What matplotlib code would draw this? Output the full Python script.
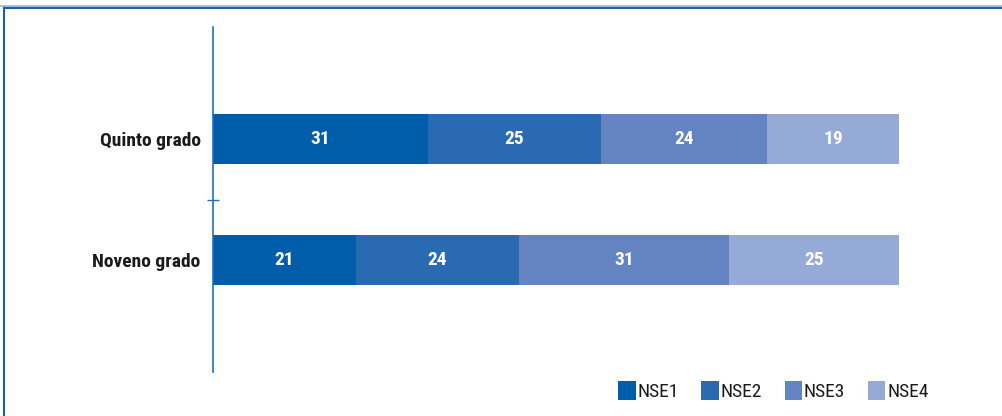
import matplotlib.pyplot as plt
from matplotlib.lines import Line2D

# data
grados = ["Quinto grado", "Noveno grado"]
series = ["NSE1", "NSE2", "NSE3", "NSE4"]
nse1 = [31, 21]
nse2 = [25, 24]
nse3 = [24, 31]
nse4 = [19, 25]
colores = ["#005DA9", "#2A6AB2", "#6383C1", "#95AAD6"]

plt.rcParams['font.family'] = ['Roboto Condensed', 'DejaVu Sans']

fig = plt.figure(figsize=(10.02, 4.16), dpi=100)
ax = fig.add_axes([213 / 1002, 1 - 372 / 416, 686 / 1002, 345 / 416])

valores = [nse1, nse2, nse3, nse4]
totales = [sum(v[i] for v in valores) for i in range(len(grados))]
ypos = list(range(len(grados)))
izq = [0.0] * len(grados)
for nombre, vals, c in zip(series, valores, colores):
    ancho = [v / t * 100 for v, t in zip(vals, totales)]
    bars = ax.barh(ypos, ancho, left=izq, height=0.41, color=c, label=nombre)
    for b, v in zip(bars, vals):
        ax.text(b.get_x() + b.get_width() / 2, b.get_y() + b.get_height() / 2, str(v),
                ha='center', va='center', color='white', fontsize=14, fontweight='bold')
    izq = [a + w for a, w in zip(izq, ancho)]

ax.set_xlim(0, 100)
ax.set_ylim(1.926, -0.926)
ax.set_yticks(ypos)
ax.set_yticklabels(grados, fontsize=14, fontweight='bold', color='#1a1a1a')
ax.set_yticks([0.5], minor=True)
ax.tick_params(axis='y', which='major', length=0, pad=9)
ax.tick_params(axis='y', which='minor', length=9, direction='inout', color='#2A6AB2', width=1)
ax.set_xticks([])
for s in ['top', 'right', 'bottom']:
    ax.spines[s].set_visible(False)
ax.spines['left'].set_color('#1F6FC5')
ax.spines['left'].set_linewidth(1.2)

fig.legend(loc='center right', bbox_to_anchor=(946 / 1002, 1 - 391 / 416), ncol=4,
           frameon=False, handlelength=0.9, handleheight=1.1, handletextpad=0.1,
           columnspacing=1.15, fontsize=14, labelcolor='#1a1a1a')

# marco de la figura
fig.add_artist(Line2D([0, 1], [1 - 6 / 416, 1 - 6 / 416], color='#8FB4DE', lw=1.2))
fig.add_artist(Line2D([0.004, 1], [1 - 8 / 416, 1 - 8 / 416], color='#1B5FA8', lw=1.5))
fig.add_artist(Line2D([4 / 1002, 4 / 1002], [0, 1 - 8 / 416], color='#1B5FA8', lw=1.5))

fig.savefig("out.png", dpi=100)
